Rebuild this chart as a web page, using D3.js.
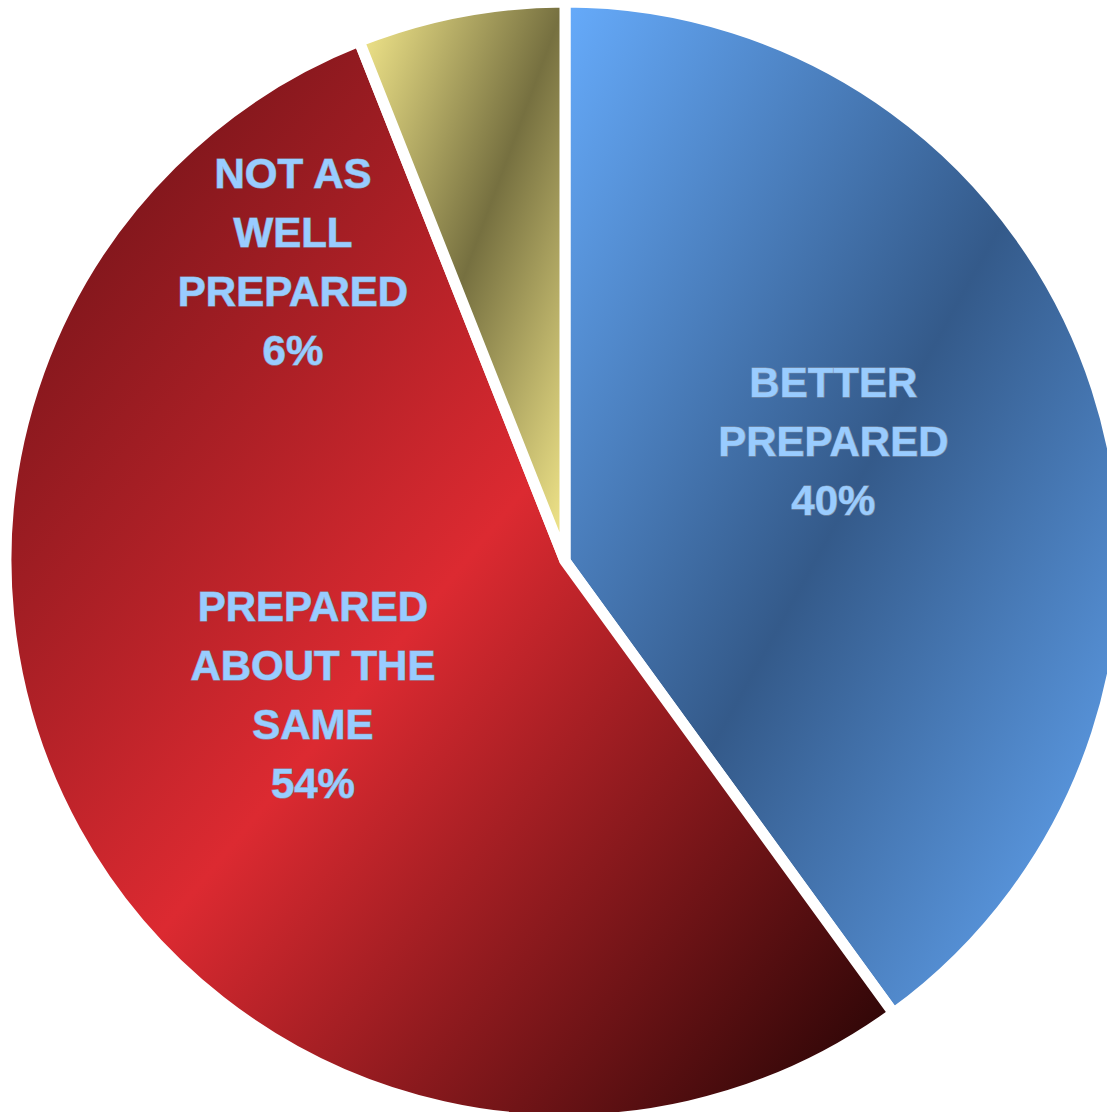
<!DOCTYPE html>
<html>
<head>
<meta charset="utf-8">
<script src="https://cdn.jsdelivr.net/npm/d3@7"></script>
<style>
  body { margin: 0; background: #fff; }
  svg { display: block; }
</style>
</head>
<body>
<div id="chart"></div>
<script>
// data
let categories = ["BETTER PREPARED", "PREPARED ABOUT THE SAME", "NOT AS WELL PREPARED"];
let values = [40, 54, 6];
let labelLines = [
    ["BETTER", "PREPARED", "40%"],
    ["PREPARED", "ABOUT THE", "SAME", "54%"],
    ["NOT AS", "WELL", "PREPARED", "6%"],
];

let config = {
    width: 1107,
    height: 1112,
    cx: 565,
    cy: 561,
    radius: 559,
    font_size: 42,
    line_height: 59,
};

// gradient stops per slice (light/dark/light etc)
let gradients = [
    ["#66abfb", "#345a8a", "#66abfb"],
    ["#5e0f14", "#dc2a31", "#1e0303"],
    ["#f8ec8e", "#767040", "#f8ec8e"],
];
// where excel placed the labels: [angle in degrees from top, distance from center]
let label_anchor = [[65.9, 294], [242.2, 285], [317.8, 405]];

let svg = d3.select("#chart").append("svg")
    .attr("width", config.width).attr("height", config.height);

let defs = svg.append("defs");
gradients.forEach((g, i) => {
    let lg = defs.append("linearGradient").attr("id", "grad" + i)
        .attr("x1", 0).attr("y1", 0).attr("x2", 1).attr("y2", 1);
    lg.selectAll("stop").data(g).join("stop")
        .attr("offset", (d, j) => j / (g.length - 1))
        .attr("stop-color", d => d);
});

let pie = d3.pie().sort(null).value(d => d.value);
let arcs = pie(categories.map((c, i) => ({name: c, value: values[i], i: i})));
let arc = d3.arc().innerRadius(0).outerRadius(config.radius);

let plot_g = svg.append("g")
    .attr("transform", `translate(${config.cx},${config.cy})`);

plot_g.selectAll("path.slice").data(arcs).join("path")
    .attr("class", "slice")
    .attr("d", arc)
    .attr("fill", d => `url(#grad${d.data.i})`)
    .attr("stroke", "#fff")
    .attr("stroke-width", 11)
    .attr("stroke-linejoin", "miter");

let labels = plot_g.selectAll("text.label").data(arcs).join("text")
    .attr("class", "label")
    .attr("font-family", "Liberation Sans, Arial, sans-serif")
    .attr("font-weight", "bold")
    .attr("font-size", config.font_size)
    .attr("fill", "#99ccff")
    .attr("stroke", "#8a98aa")
    .attr("stroke-width", 1.2)
    .attr("paint-order", "stroke")
    .attr("text-anchor", "middle")
    .each(function(d) {
        let [ang, r] = label_anchor[d.data.i];
        let [x, y] = d3.pointRadial(ang * Math.PI / 180, r);
        let lines = labelLines[d.data.i];
        let top = y - (lines.length - 1) * config.line_height / 2 + config.font_size * 0.36;
        d3.select(this).selectAll("tspan").data(lines).join("tspan")
            .attr("x", x)
            .attr("y", (l, k) => top + k * config.line_height)
            .text(l => l);
    });
</script>
</body>
</html>
